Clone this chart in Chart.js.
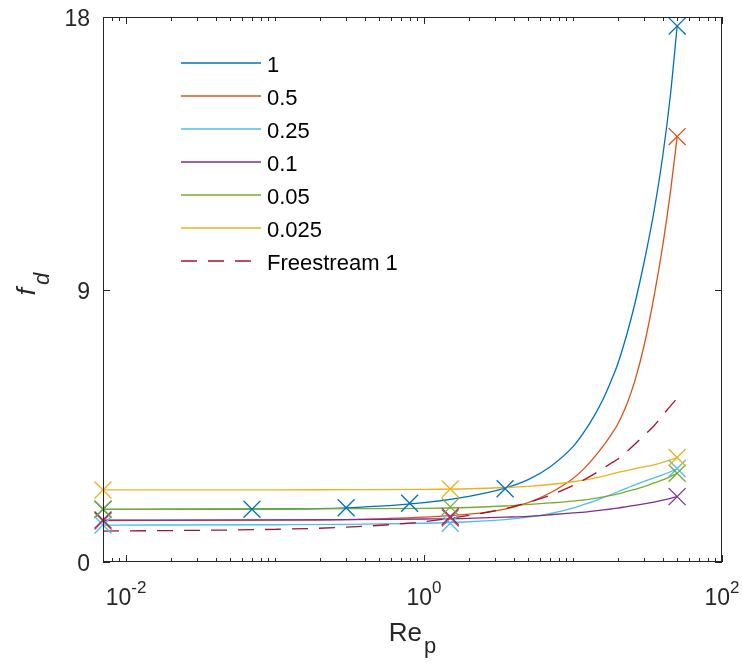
<!DOCTYPE html>
<html>
<head>
<meta charset="utf-8">
<script src="https://cdn.jsdelivr.net/npm/chart.js@4"></script>
<style>
  body { margin: 0; background: #fff; }
  canvas { display: block; }
</style>
</head>
<body>
<canvas id="myChart" width="742" height="664"></canvas>
<script>
// series names (legend)
const labels = ["1", "0.5", "0.25", "0.1", "0.05", "0.025", "Freestream 1"];
const colors = ["#0072BD", "#D95319", "#4DBEEE", "#7E2F8E", "#77AC30", "#EDB120", "#A2142F"];

// Re_p points where the curves were read
const reCurve = [0.007, 0.1, 0.3, 1, 2, 3.5, 5, 7, 10, 12, 14, 16, 18, 20, 23, 26, 30, 35, 40, 45, 50];

// f_d along each curve
const fd1    = [1.74, 1.75, 1.79, 1.96, 2.17, 2.44, 2.72, 3.14, 3.81, 4.33, 4.86, 5.40, 5.98, 6.55, 7.53, 8.53, 9.90, 11.6, 13.4, 15.4, 17.7];
const fd05   = [1.37, 1.38, 1.40, 1.48, 1.58, 1.75, 1.96, 2.28, 2.76, 3.11, 3.48, 3.84, 4.20, 4.56, 5.22, 5.98, 7.15, 8.78, 10.45, 12.2, 14.05];
const fd025  = [1.22, 1.23, 1.24, 1.28, 1.33, 1.40, 1.48, 1.60, 1.78, 1.91, 2.02, 2.13, 2.23, 2.32, 2.44, 2.55, 2.66, 2.78, 2.88, 2.98, 3.08];
const fd01   = [1.38, 1.39, 1.40, 1.42, 1.44, 1.48, 1.51, 1.56, 1.62, 1.65, 1.69, 1.72, 1.75, 1.78, 1.83, 1.87, 1.92, 1.98, 2.04, 2.10, 2.16];
const fd005  = [1.74, 1.75, 1.76, 1.77, 1.80, 1.85, 1.90, 1.95, 2.01, 2.05, 2.10, 2.15, 2.20, 2.25, 2.33, 2.40, 2.49, 2.61, 2.71, 2.82, 2.93];
const fd0025 = [2.38, 2.38, 2.39, 2.40, 2.42, 2.46, 2.50, 2.56, 2.65, 2.71, 2.77, 2.84, 2.90, 2.96, 3.02, 3.08, 3.14, 3.21, 3.29, 3.37, 3.45];
const fdFree = [1.02, 1.08, 1.15, 1.33, 1.54, 1.76, 1.97, 2.20, 2.53, 2.73, 2.92, 3.10, 3.26, 3.40, 3.65, 3.89, 4.18, 4.50, 4.85, 5.15, 5.41];

// x marks
const reMark1 = [0.007, 0.07, 0.3, 0.8, 3.5, 50];
const fdMark1 = [1.74, 1.74, 1.79, 1.94, 2.42, 17.7];
const reMark = [0.007, 1.5, 50];
const fdMark05   = [1.35, 1.45, 14.05];
const fdMark025  = [1.22, 1.28, 3.09];
const fdMark01   = [1.39, 1.50, 2.16];
const fdMark005  = [1.74, 1.82, 2.93];
const fdMark0025 = [2.38, 2.41, 3.45];

// axis ticks
const xMajor = [0.01, 1, 100];
const xMajorExp = ["-2", "0", "2"];
const yTicks = [0, 9, 18];

const curves = [fd1, fd05, fd025, fd01, fd005, fd0025, fdFree];
const marks = [
  [reMark1, fdMark1], [reMark, fdMark05], [reMark, fdMark025],
  [reMark, fdMark01], [reMark, fdMark005], [reMark, fdMark0025]
];

function pts(xs, ys) {
  return xs.map((x, i) => ({ x: x, y: ys[i] }));
}

const datasets = [];
curves.forEach(function (c, i) {
  datasets.push({
    label: labels[i],
    data: pts(reCurve, c),
    borderColor: colors[i],
    borderWidth: 1.3,
    borderDash: i == 6 ? [16, 11] : [],
    pointRadius: 0,
    cubicInterpolationMode: "monotone",
    fill: false,
    order: 30 - i,
    isCurve: true
  });
});
marks.forEach(function (m, i) {
  datasets.push({
    label: labels[i] + " marks",
    data: pts(m[0], m[1]),
    showLine: false,
    pointStyle: "crossRot",
    pointRadius: 12,
    pointBorderWidth: 1.3,
    borderColor: colors[i],
    pointBorderColor: colors[i],
    backgroundColor: colors[i],
    clip: false,
    order: 10 - i
  });
});

const FONT = '"Liberation Sans", Arial, sans-serif';

// axes box, inward ticks, tick labels, titles and legend, MATLAB style
const frame = {
  id: "frame",
  afterDatasetsDraw(chart) {
    const ctx = chart.ctx;
    const a = chart.chartArea;
    const xs = chart.scales.x, ys = chart.scales.y;
    ctx.save();
    ctx.strokeStyle = "#262626";
    ctx.lineWidth = 1;
    ctx.strokeRect(a.left + 0.5, a.top + 0.5, a.right - a.left - 1, a.bottom - a.top - 1);

    ctx.beginPath();
    // minor x ticks
    for (let d = -3; d <= 1; d++) {
      for (let k = 1; k <= 9; k++) {
        const v = k * Math.pow(10, d);
        if (v < 0.007 || v > 100) continue;
        if (xMajor.some(m => Math.abs(m - v) / m < 1e-9)) continue;
        const px = Math.round(xs.getPixelForValue(v)) + 0.5;
        ctx.moveTo(px, a.bottom); ctx.lineTo(px, a.bottom - 4);
        ctx.moveTo(px, a.top); ctx.lineTo(px, a.top + 4);
      }
    }
    xMajor.forEach(function (v) {
      const px = Math.round(xs.getPixelForValue(v)) + 0.5;
      ctx.moveTo(px, a.bottom); ctx.lineTo(px, a.bottom - 7);
      ctx.moveTo(px, a.top); ctx.lineTo(px, a.top + 7);
    });
    yTicks.forEach(function (v) {
      const py = Math.round(ys.getPixelForValue(v)) + 0.5;
      ctx.moveTo(a.left, py); ctx.lineTo(a.left + 7, py);
      ctx.moveTo(a.right, py); ctx.lineTo(a.right - 7, py);
    });
    ctx.stroke();

    ctx.fillStyle = "#262626";
    // y tick labels
    ctx.font = "23px " + FONT;
    ctx.textAlign = "right";
    ctx.textBaseline = "alphabetic";
    yTicks.forEach(function (v) {
      ctx.fillText(String(v), a.left - 13, ys.getPixelForValue(v) + 9);
    });
    // x tick labels 10^n
    ctx.textAlign = "left";
    xMajor.forEach(function (v, i) {
      ctx.font = "23px " + FONT;
      const w1 = ctx.measureText("10").width;
      ctx.font = "17px " + FONT;
      const w2 = ctx.measureText(xMajorExp[i]).width;
      const x0 = xs.getPixelForValue(v) - (w1 + w2) / 2;
      ctx.font = "23px " + FONT;
      ctx.fillText("10", x0, 605);
      ctx.font = "17px " + FONT;
      ctx.fillText(xMajorExp[i], x0 + w1, 593);
    });
    // x title Re_p
    ctx.font = "26px " + FONT;
    const wRe = ctx.measureText("Re").width;
    ctx.font = "22px " + FONT;
    const wp = ctx.measureText("p").width;
    const cx = (a.left + a.right) / 2 - (wRe + wp + 2) / 2;
    ctx.font = "26px " + FONT;
    ctx.fillText("Re", cx, 641);
    ctx.font = "22px " + FONT;
    ctx.fillText("p", cx + wRe + 2, 653);
    // y title f_d
    ctx.save();
    ctx.translate(35, 284);
    ctx.rotate(-Math.PI / 2);
    ctx.font = "italic 26px " + FONT;
    const wf = ctx.measureText("f").width;
    ctx.font = "italic 22px " + FONT;
    const wd = ctx.measureText("d").width;
    const lx = -(wf + wd + 3) / 2;
    ctx.font = "italic 26px " + FONT;
    ctx.fillText("f", lx, 0);
    ctx.font = "italic 22px " + FONT;
    ctx.fillText("d", lx + wf + 3, 14);
    ctx.restore();

    // legend inside the axes
    ctx.font = "22px " + FONT;
    chart.data.datasets.forEach(function (ds, i) {
      if (!ds.isCurve) return;
      const y = 63 + 33 * i;
      ctx.beginPath();
      ctx.strokeStyle = ds.borderColor;
      ctx.lineWidth = 1.3;
      ctx.setLineDash(ds.borderDash || []);
      ctx.moveTo(181, y); ctx.lineTo(261, y);
      ctx.stroke();
      ctx.setLineDash([]);
      ctx.fillStyle = "#000";
      ctx.fillText(ds.label, 267, y + 9);
    });
    ctx.restore();
  }
};

new Chart("myChart", {
  type: "line",
  data: { datasets: datasets },
  options: {
    responsive: false,
    animation: false,
    layout: { padding: { left: 103, top: 17, right: 20, bottom: 102 } },
    scales: {
      x: { type: "logarithmic", min: 0.007, max: 100, display: false },
      y: { type: "linear", min: 0, max: 18, display: false }
    },
    plugins: {
      legend: { display: false },
      tooltip: { enabled: false }
    }
  },
  plugins: [frame]
});
</script>
</body>
</html>
